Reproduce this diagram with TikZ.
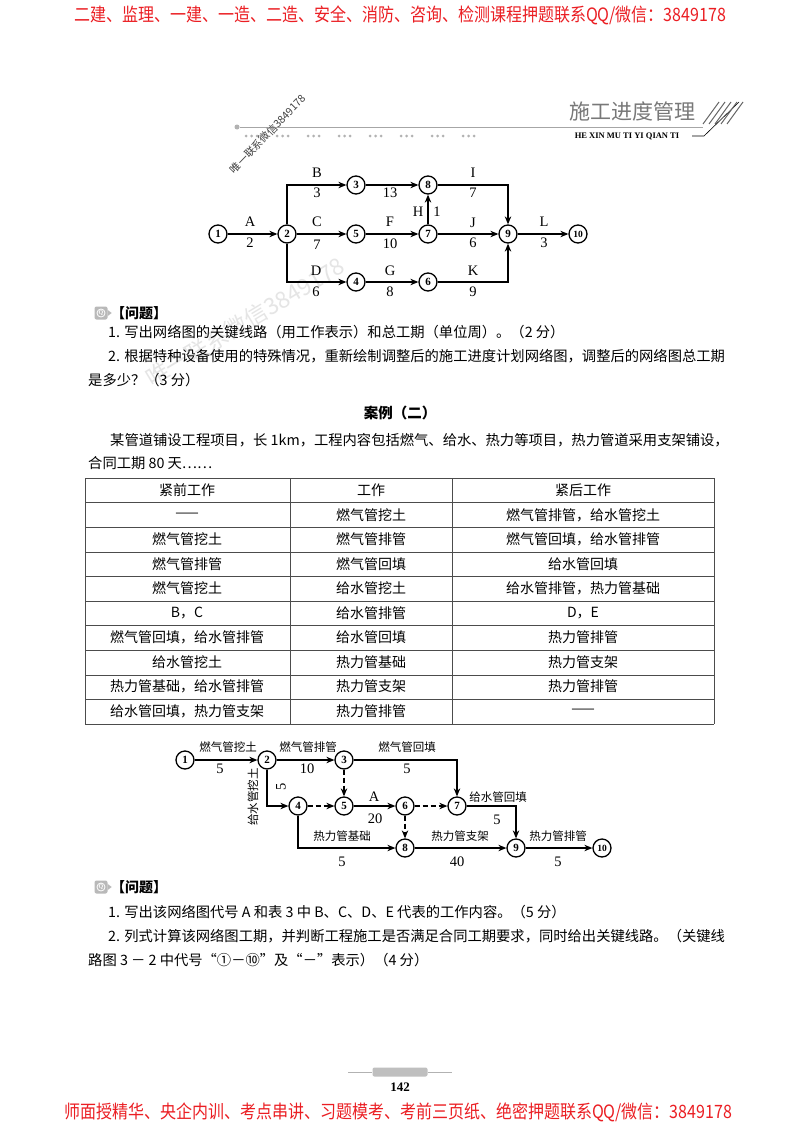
\documentclass[tikz,border=0pt]{standalone}
\usepackage{fontspec}
\setmainfont{Liberation Serif}
\newfontfamily\cjk{Noto Sans CJK SC}
\usetikzlibrary{arrows.meta}
\definecolor{bannerred}{RGB}{235,30,35}
\definecolor{hdrgray}{RGB}{120,120,120}
\begin{document}
\begin{tikzpicture}[x=1pt,y=-1pt,
  nd/.style={circle,draw,line width=1.3pt,minimum size=18pt,inner sep=0pt,fill=white,font=\bfseries\fontsize{11}{11}\selectfont},
  arr/.style={-{Stealth[length=8pt,width=6.5pt]},line width=1.1pt},
  dsh/.style={dash pattern=on 5pt off 3pt},
  lab/.style={inner sep=0pt,font=\fontsize{14.5}{14.5}\selectfont},
  clab/.style={inner sep=0pt,font=\cjk\fontsize{11.5}{11.5}\selectfont},
  body/.style={inner sep=0pt,anchor=base west,font=\cjk\fontsize{14.3}{14.3}\selectfont},
  cell/.style={inner sep=0pt,font=\cjk\fontsize{14}{14}\selectfont},
  rl/.style={line width=0.5pt,draw=black!70}]
\useasboundingbox (0,0) rectangle (800,1132);
\fill[white] (0,0) rectangle (800,1132);

% ---- banners
\node[font=\cjk\fontsize{16}{16}\selectfont,text=bannerred,yscale=1.15] (topban) at (400,15) {二建、监理、一建、一造、二造、安全、消防、咨询、检测课程押题联系QQ/微信：3849178};
\node[font=\cjk\fontsize{16}{16}\selectfont,text=bannerred,yscale=1.15] (botban) at (398,1112) {师面授精华、央企内训、考点串讲、习题模考、考前三页纸、绝密押题联系QQ/微信：3849178};

% ---- header
\node[font=\cjk\fontsize{21}{21}\selectfont,text=hdrgray] (ttl) at (632,111) {施工进度管理};
\node[circle,fill=gray!60,minimum size=5pt,inner sep=0pt] (hdot) at (237,127) {};
\coordinate (hend) at (703,127);
\draw[gray!70,line width=0.6pt] (hdot) -- (hend);
\foreach \g in {0,...,7}{
  \foreach \d in {0,1,2}{
    \fill[gray!60] (246+\g*31+\d*5.5,136) circle (1.5pt);
  }
}
\node[inner sep=0pt,font=\bfseries\fontsize{8.5}{8.5}\selectfont] (hx) at (627,136) {HE XIN MU TI YI QIAN TI};
\coordinate (hx1) at (692,136);
\coordinate (hx2) at (704,136);
\draw[line width=0.6pt] (hx1) -- (hx2) -- (739,102);
\foreach \i in {0,...,4}{
  \draw[line width=1pt,gray!80!black] (703+\i*6,124) -- (719+\i*6,102);
}

% ---- watermarks
\node[rotate=46,text=black!75,font=\cjk\fontsize{10.5}{10.5}\selectfont] (wm1) at (268,134) {唯一联系微信3849178};
\node[rotate=31,text=black!10,font=\cjk\fontsize{23}{23}\selectfont] (wm2) at (245,322) {唯一联系微信3849178};

% ---- network 1
\node[nd] (n1) at (218,234) {1};
\node[nd] (n2) at (287,234) {2};
\node[nd] (n3) at (356,185) {3};
\node[nd] (n5) at (356,234) {5};
\node[nd] (n4) at (356,282) {4};
\node[nd] (n8) at (428,185) {8};
\node[nd] (n7) at (428,234) {7};
\node[nd] (n6) at (428,282) {6};
\node[nd] (n9) at (508,234) {9};
\node[nd,font=\bfseries\fontsize{9.5}{9.5}\selectfont] (n10) at (578,234) {10};
\draw[arr] (n1) -- (n2);
\draw[arr] (n2) |- (n3);
\draw[arr] (n2) -- (n5);
\draw[arr] (n2) |- (n4);
\draw[arr] (n3) -- (n8);
\draw[arr] (n5) -- (n7);
\draw[arr] (n4) -- (n6);
\draw[arr] (n7) -- (n8);
\draw[arr] (n8) -| (n9);
\draw[arr] (n7) -- (n9);
\draw[arr] (n6) -| (n9);
\draw[arr] (n9) -- (n10);
\node[lab] (la) at (250,222) {A};   \node[lab] (la2) at (250,243) {2};
\node[lab] (lb) at (317,173) {B};   \node[lab] (lb2) at (317,193) {3};
\node[lab] (l13) at (390,193) {13};
\node[lab] (li) at (473,173) {I};   \node[lab] (li2) at (473,193) {7};
\node[lab] (lc) at (317,222) {C};   \node[lab] (lc2) at (317,245) {7};
\node[lab] (lf) at (390,222) {F};   \node[lab] (lf2) at (390,244) {10};
\node[lab] (lh) at (418,212) {H};   \node[lab] (lh2) at (437,212) {1};
\node[lab] (lj) at (473,223) {J};   \node[lab] (lj2) at (473,243) {6};
\node[lab] (ll) at (544,222) {L};   \node[lab] (ll2) at (544,243) {3};
\node[lab] (ld) at (316,271) {D};   \node[lab] (ld2) at (316,292) {6};
\node[lab] (lg) at (390,271) {G};   \node[lab] (lg2) at (390,292) {8};
\node[lab] (lk) at (473,271) {K};   \node[lab] (lk2) at (473,292) {9};

% ---- question block 1
\node[fill=gray!55,rounded corners=2pt,minimum size=13pt,inner sep=0pt] (q1) at (101,313) {};
\node[circle,draw=white,line width=0.8pt,minimum size=8pt,inner sep=0pt,text=white,font=\bfseries\fontsize{6}{6}\selectfont] (q1c) at (q1) {Q};
\fill[gray!55] (q1.east) ++(0,-3) -- ++(4,3) -- ++(-4,3) -- cycle;
\node[inner sep=0pt,anchor=west,font=\cjk\bfseries\fontsize{14}{14}\selectfont] (q1t) at (111,313) {【问题】};
\node[body] (q1a) at (108,337) {1. 写出网络图的关键线路（用工作表示）和总工期（单位周）。（2 分）};
\node[body] (q1b) at (108,361) {2. 根据特种设备使用的特殊情况，重新绘制调整后的施工进度计划网络图，调整后的网络图总工期};
\node[body] (q1c2) at (88,385) {是多少？（3 分）};

% ---- case 2
\node[inner sep=0pt,font=\cjk\bfseries\fontsize{14.5}{14.5}\selectfont] (case) at (400,413) {案例（二）};
\node[body] (p1) at (110,445) {某管道铺设工程项目，长 1km，工程内容包括燃气、给水、热力等项目，热力管道采用支架铺设，};
\node[body] (p2) at (88,468) {合同工期 80 天……};

% ---- table
\foreach \k in {0,...,10}{
  \draw[rl] (85,478+\k*24.6) -- (714,478+\k*24.6);
}
\draw[rl] (85,478) -- (85,724);
\draw[rl] (290,478) -- (290,724);
\draw[rl] (452,478) -- (452,724);
\draw[rl] (714,478) -- (714,724);
\node[cell] (t00) at (187,490) {紧前工作};
\node[cell] (t01) at (371,490) {工作};
\node[cell] (t02) at (583,490) {紧后工作};
\node[cell] (t10) at (187,515) {——};
\node[cell] (t11) at (371,515) {燃气管挖土};
\node[cell] (t12) at (583,515) {燃气管排管，给水管挖土};
\node[cell] (t20) at (187,539.5) {燃气管挖土};
\node[cell] (t21) at (371,539.5) {燃气管排管};
\node[cell] (t22) at (583,539.5) {燃气管回填，给水管排管};
\node[cell] (t30) at (187,564) {燃气管排管};
\node[cell] (t31) at (371,564) {燃气管回填};
\node[cell] (t32) at (583,564) {给水管回填};
\node[cell] (t40) at (187,588.5) {燃气管挖土};
\node[cell] (t41) at (371,588.5) {给水管挖土};
\node[cell] (t42) at (583,588.5) {给水管排管，热力管基础};
\node[cell] (t50) at (187,613) {B，C};
\node[cell] (t51) at (371,613) {给水管排管};
\node[cell] (t52) at (583,613) {D，E};
\node[cell] (t60) at (187,637.5) {燃气管回填，给水管排管};
\node[cell] (t61) at (371,637.5) {给水管回填};
\node[cell] (t62) at (583,637.5) {热力管排管};
\node[cell] (t70) at (187,662) {给水管挖土};
\node[cell] (t71) at (371,662) {热力管基础};
\node[cell] (t72) at (583,662) {热力管支架};
\node[cell] (t80) at (187,686.5) {热力管基础，给水管排管};
\node[cell] (t81) at (371,686.5) {热力管支架};
\node[cell] (t82) at (583,686.5) {热力管排管};
\node[cell] (t90) at (187,711) {给水管回填，热力管支架};
\node[cell] (t91) at (371,711) {热力管排管};
\node[cell] (t92) at (583,711) {——};

% ---- network 2
\node[nd] (m1) at (185,760) {1};
\node[nd] (m2) at (267,760) {2};
\node[nd] (m3) at (344,760) {3};
\node[nd] (m4) at (298,806) {4};
\node[nd] (m5) at (344,806) {5};
\node[nd] (m6) at (405,806) {6};
\node[nd] (m7) at (457,806) {7};
\node[nd] (m8) at (405,848) {8};
\node[nd] (m9) at (516,848) {9};
\node[nd,font=\bfseries\fontsize{9.5}{9.5}\selectfont] (m10) at (602,848) {10};
\draw[arr] (m1) -- (m2);
\draw[arr] (m2) -- (m3);
\draw[arr] (m3) -| (m7);
\draw[arr] (m2) |- (m4);
\draw[arr,dsh] (m3) -- (m5);
\draw[arr,dsh] (m4) -- (m5);
\draw[arr] (m5) -- (m6);
\draw[arr,dsh] (m6) -- (m7);
\draw[arr,dsh] (m6) -- (m8);
\draw[arr] (m7) -| (m9);
\draw[arr] (m4) |- (m8);
\draw[arr] (m8) -- (m9);
\draw[arr] (m9) -- (m10);
\node[clab] (k1) at (228,747) {燃气管挖土};  \node[lab] (k1b) at (220,769) {5};
\node[clab] (k2) at (308,747) {燃气管排管};  \node[lab] (k2b) at (307,769) {10};
\node[clab] (k3) at (407,747) {燃气管回填};  \node[lab] (k3b) at (407,769) {5};
\node[clab,rotate=90] (k4) at (253,797) {给水管挖土}; \node[lab,rotate=90] (k4b) at (281,787) {5};
\node[lab] (k5) at (374,797) {A};  \node[lab] (k5b) at (375,819) {20};
\node[clab] (k6) at (498,797) {给水管回填};  \node[lab] (k6b) at (497,820) {5};
\node[clab] (k7) at (342,836) {热力管基础};  \node[lab] (k7b) at (342,862) {5};
\node[clab] (k8) at (460,836) {热力管支架};  \node[lab] (k8b) at (457,862) {40};
\node[clab] (k9) at (558,836) {热力管排管};  \node[lab] (k9b) at (558,862) {5};

% ---- question block 2
\node[fill=gray!55,rounded corners=2pt,minimum size=13pt,inner sep=0pt] (r1) at (101,887) {};
\node[circle,draw=white,line width=0.8pt,minimum size=8pt,inner sep=0pt,text=white,font=\bfseries\fontsize{6}{6}\selectfont] (r1c) at (r1) {Q};
\fill[gray!55] (r1.east) ++(0,-3) -- ++(4,3) -- ++(-4,3) -- cycle;
\node[inner sep=0pt,anchor=west,font=\cjk\bfseries\fontsize{14}{14}\selectfont] (r1t) at (111,887) {【问题】};
\node[body] (r1a) at (108,917) {1. 写出该网络图代号 A 和表 3 中 B、C、D、E 代表的工作内容。（5 分）};
\node[body] (r1b) at (108,941) {2. 列式计算该网络图工期，并判断工程施工是否满足合同工期要求，同时给出关键线路。（关键线};
\node[body] (r1d) at (88,965) {路图 3 － 2 中代号“①－⑩”及“－”表示）（4 分）};

% ---- footer
\node[fill=gray!50,rounded corners=2pt,minimum width=55pt,minimum height=9pt,inner sep=0pt] (tab) at (400,1072) {};
\coordinate (tl1) at (348,1072); \coordinate (tr1) at (452,1072);
\draw[gray!60,line width=0.5pt] (tl1) -- (tab.west);
\draw[gray!60,line width=0.5pt] (tab.east) -- (tr1);
\node[inner sep=0pt,font=\bfseries\fontsize{13}{13}\selectfont] (pg) at (400,1087) {142};
\end{tikzpicture}
\end{document}
